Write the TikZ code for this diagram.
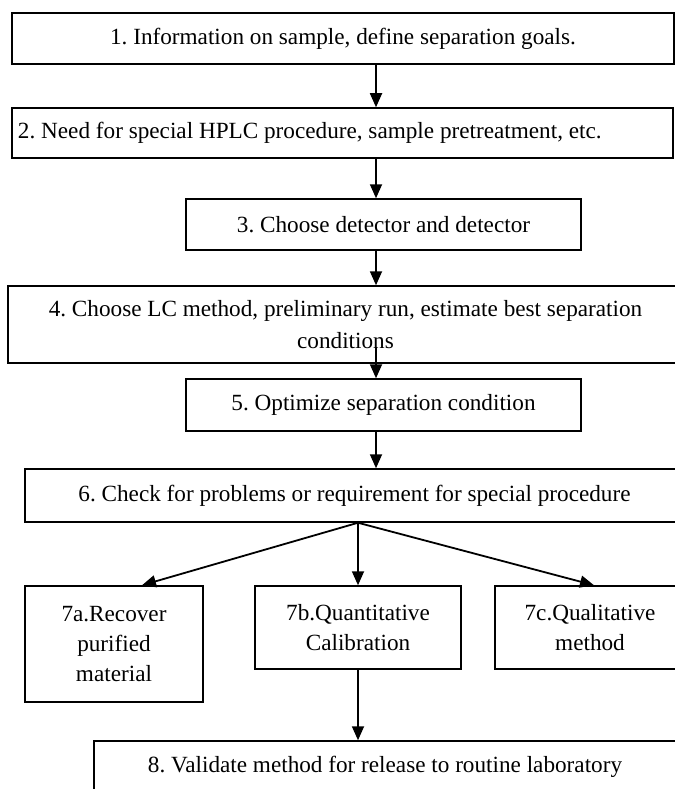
\documentclass[tikz,border=0pt]{standalone}
\usepackage{fontspec}
\setmainfont{Liberation Serif}
\usetikzlibrary{arrows.meta}
\frenchspacing
\newcommand\boxfont{\fontsize{23.2bp}{30bp}\selectfont\frenchspacing}
\tikzset{
  stepbox/.style={draw=black, line width=1.5bp, inner sep=0pt, font=\boxfont, align=center},
  arr/.style={line width=1.8bp, -{Triangle[width=12bp,length=14bp]}}
}
\begin{document}
\begin{tikzpicture}[x=1bp,y=-1bp]
\useasboundingbox (0,0) rectangle (675,789);
\clip (0,0) rectangle (675,789);
\fill[white] (0,0) rectangle (675,789);
\node[stepbox, minimum width=662bp, minimum height=51bp] (b1) at (343,38.5)
  {1. Information on sample, define separation goals.};
\node[stepbox, minimum width=661bp, minimum height=50bp, text width=649bp, align=flush left, inner xsep=6bp] (b2) at (342.5,133)
  {2. Need for special HPLC procedure, sample pretreatment, etc.};
\node[stepbox, minimum width=395bp, minimum height=51bp] (b3) at (383.5,224.5)
  {3. Choose detector and detector};
\node[stepbox, minimum width=675bp, minimum height=77bp] (b4) at (345.5,324.5)
  {4. Choose LC method, preliminary run, estimate best separation\\[2bp] conditions};
\node[stepbox, minimum width=395bp, minimum height=52bp] (b5) at (383.5,405)
  {5. Optimize separation condition};
\node[stepbox, minimum width=659bp, minimum height=53bp] (b6) at (354.5,495.5)
  {6. Check for problems or requirement for special procedure};
\node[stepbox, minimum width=178bp, minimum height=116bp] (b7a) at (114,644)
  {7a.Recover\\purified\\material};
\node[stepbox, minimum width=206bp, minimum height=83bp] (b7b) at (358,627.5)
  {7b.Quantitative\\Calibration};
\node[stepbox, minimum width=190bp, minimum height=83bp] (b7c) at (590,627.5)
  {7c.Qualitative\\method};
\node[stepbox, minimum width=582bp, minimum height=52bp] (b8) at (385,767)
  {8. Validate method for release to routine laboratory};
\coordinate (ax) at (376,0);
\draw[arr] (b1.south -| ax) -- (b2.north -| ax);
\draw[arr] (b2.south -| ax) -- (b3.north -| ax);
\draw[arr] (b3.south -| ax) -- (b4.north -| ax);
\path (b4.south -| ax) ++(0,-17) coordinate (s45);
\draw[arr] (s45) -- (b5.north -| ax);
\draw[arr] (b5.south -| ax) -- (b6.north -| ax);
\coordinate (o6) at (b6.south -| b7b.north);
\draw[arr] (o6) -- ([xshift=28bp]b7a.north);
\draw[arr] (o6) -- (b7b.north);
\draw[arr] (o6) -- ([xshift=4bp]b7c.north);
\draw[arr] (b7b.south) -- (b8.north -| b7b.south);
\end{tikzpicture}
\end{document}
